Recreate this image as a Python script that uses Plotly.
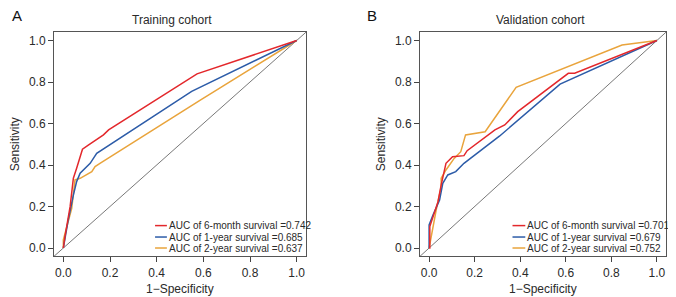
import plotly.graph_objects as go

# ---- data ----
train_fpr_6m = [0, 0.007, 0.029, 0.043, 0.057, 0.082, 0.107, 0.172, 0.194, 0.573, 1.0]
train_tpr_6m = [0, 0.055, 0.199, 0.336, 0.384, 0.476, 0.496, 0.545, 0.569, 0.839, 1.0]
train_fpr_1y = [0, 0.021, 0.043, 0.057, 0.072, 0.093, 0.115, 0.143, 0.55, 1.0]
train_tpr_1y = [0, 0.135, 0.255, 0.32, 0.36, 0.384, 0.408, 0.456, 0.755, 1.0]
train_fpr_2y = [0, 0.0, 0.036, 0.05, 0.072, 0.1, 0.122, 0.136, 0.157, 0.587, 1.0]
train_tpr_2y = [0, 0.039, 0.191, 0.328, 0.336, 0.352, 0.368, 0.392, 0.408, 0.713, 1.0]

valid_fpr_6m = [0, 0.003, 0.003, 0.017, 0.039, 0.053, 0.074, 0.103, 0.153, 0.167, 0.289, 0.332, 0.389, 0.611, 0.639, 1.0]
valid_tpr_6m = [0, 0.0, 0.103, 0.151, 0.223, 0.304, 0.408, 0.44, 0.445, 0.469, 0.569, 0.593, 0.657, 0.842, 0.842, 1.0]
valid_fpr_1y = [0, 0, 0.017, 0.046, 0.06, 0.082, 0.117, 0.153, 0.31, 0.575, 1.0]
valid_tpr_1y = [0, 0.111, 0.159, 0.231, 0.312, 0.352, 0.368, 0.408, 0.54, 0.79, 1.0]
valid_fpr_2y = [0, 0.01, 0.031, 0.053, 0.053, 0.074, 0.11, 0.139, 0.16, 0.246, 0.382, 0.847, 1.0]
valid_tpr_2y = [0, 0.06, 0.183, 0.295, 0.336, 0.376, 0.432, 0.464, 0.545, 0.56, 0.774, 0.978, 1.0]

series_labels = ["6-month", "1-year", "2-year"]
train_auc = ["0.742", "0.685", "0.637"]
valid_auc = ["0.701", "0.679", "0.752"]
panel_titles = ["Training cohort", "Validation cohort"]
panel_letters = ["A", "B"]
x_title = "1−Specificity"
y_title = "Sensitivity"
tick_vals = [0, 0.2, 0.4, 0.6, 0.8, 1.0]
tick_text = ["0.0", "0.2", "0.4", "0.6", "0.8", "1.0"]

colors = ["#E3282C", "#2D5CA8", "#E9A43C"]
FONT = "Liberation Sans, Arial, sans-serif"
TXT = "#2a2a2a"

# the page body has an 8px margin; lay out in page coordinates minus that offset
W, H = 668, 289
OFF = 8

def px(xs):
    return (xs - OFF) / W

def py(ys):
    return 1 - (ys - OFF) / H

fig = go.Figure()
train = [(train_fpr_6m, train_tpr_6m), (train_fpr_1y, train_tpr_1y), (train_fpr_2y, train_tpr_2y)]
valid = [(valid_fpr_6m, valid_tpr_6m), (valid_fpr_1y, valid_tpr_1y), (valid_fpr_2y, valid_tpr_2y)]
for panel, (data, xa, ya) in enumerate([(train, "x", "y"), (valid, "x2", "y2")]):
    for i in [2, 1, 0]:
        fx, ty = data[i]
        fig.add_trace(go.Scatter(x=fx, y=ty, mode="lines", xaxis=xa, yaxis=ya,
                                 line=dict(color=colors[i], width=1.5),
                                 showlegend=False, hoverinfo="skip"))

dom_y = [py(256.3), py(32.2)]
axis_common = dict(range=[-0.04, 1.04], tickvals=tick_vals, ticktext=tick_text,
                   ticks="outside", ticklen=5, tickwidth=1, tickcolor="#444",
                   showline=True, mirror=True, linecolor="#555", linewidth=1,
                   showgrid=False, zeroline=False,
                   tickfont=dict(family=FONT, size=12, color=TXT))
A_BOX = (54, 306)
B_BOX = (420, 666)
fig.update_layout(
    width=W, height=H, margin=dict(l=0, r=0, t=0, b=0),
    paper_bgcolor="white", plot_bgcolor="white",
    font=dict(family=FONT, color=TXT),
    xaxis=dict(domain=[px(A_BOX[0]), px(A_BOX[1])], anchor="y", **axis_common),
    yaxis=dict(domain=dom_y, anchor="x", **axis_common,
               title=dict(text=y_title, font=dict(size=12, family=FONT, color=TXT), standoff=6)),
    xaxis2=dict(domain=[px(B_BOX[0]), px(B_BOX[1])], anchor="y2", **axis_common),
    yaxis2=dict(domain=dom_y, anchor="x2", **axis_common,
                title=dict(text=y_title, font=dict(size=12, family=FONT, color=TXT), standoff=6)),
)

shapes = []
annotations = []
legend_rows_y = [0.137, 0.086, 0.037]
for p, (xa, ya, aucs, lx0, lx1, tx) in enumerate([("x", "y", train_auc, 0.401, 0.448, 0.448),
                                                  ("x2", "y2", valid_auc, 0.376, 0.428, 0.428)]):
    shapes.append(dict(type="line", xref=f"{xa} domain", yref=f"{ya} domain",
                       x0=0, y0=0, x1=1, y1=1, line=dict(color="#555", width=0.8), layer="below"))
    for i in range(3):
        yy = legend_rows_y[i]
        shapes.append(dict(type="line", xref=f"{xa} domain", yref=f"{ya} domain",
                           x0=lx0, x1=lx1, y0=yy, y1=yy, line=dict(color=colors[i], width=1.5)))
        annotations.append(dict(xref=f"{xa} domain", yref=f"{ya} domain", x=tx, y=yy,
                                xanchor="left", yanchor="middle", showarrow=False,
                                text=f"AUC of {series_labels[i]} survival ={aucs[i]}",
                                font=dict(family=FONT, size=10, color=TXT)))

for (b0, b1) in [A_BOX, B_BOX]:
    annotations.append(dict(xref="paper", yref="paper", x=px((b0 + b1) / 2), y=0, text=x_title,
                            showarrow=False, xanchor="center", yanchor="bottom", borderpad=0,
                            font=dict(family=FONT, size=12, color=TXT)))
annotations.append(dict(xref="paper", yref="paper", x=px(172), y=py(20), text=panel_titles[0],
                        showarrow=False, xanchor="center", yanchor="middle",
                        font=dict(family=FONT, size=12, color=TXT)))
annotations.append(dict(xref="paper", yref="paper", x=px(540), y=py(20), text=panel_titles[1],
                        showarrow=False, xanchor="center", yanchor="middle",
                        font=dict(family=FONT, size=12, color=TXT)))
annotations.append(dict(xref="paper", yref="paper", x=px(17), y=py(15), text=panel_letters[0],
                        showarrow=False, xanchor="center", yanchor="middle",
                        font=dict(family=FONT, size=15, color="#111")))
annotations.append(dict(xref="paper", yref="paper", x=px(372), y=py(16), text=panel_letters[1],
                        showarrow=False, xanchor="center", yanchor="middle",
                        font=dict(family=FONT, size=15, color="#111")))

fig.update_layout(shapes=shapes, annotations=annotations)
fig.write_html("out.html")
